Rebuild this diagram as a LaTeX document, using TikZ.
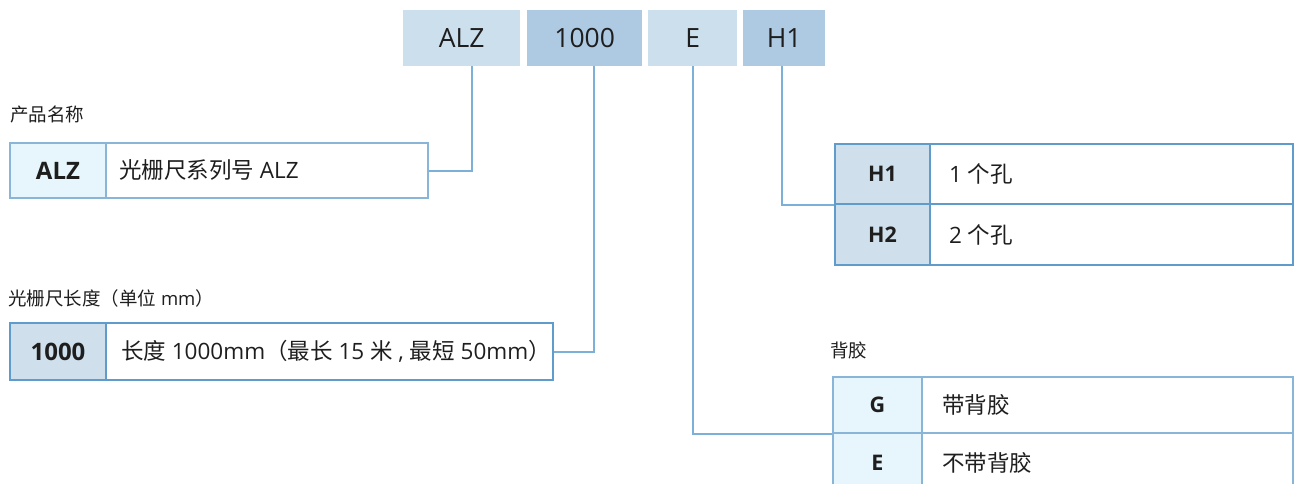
\documentclass[tikz,border=0pt]{standalone}
\usepackage{fontspec}
\setmainfont{Open Sans}
\newfontfamily\cjk{Noto Sans CJK SC}
\definecolor{topL}{HTML}{CCDFEC}
\definecolor{topD}{HTML}{AECAE2}
\definecolor{keyL}{HTML}{E7F6FD}
\definecolor{keyD}{HTML}{CFE0EC}
\definecolor{bordL}{HTML}{88B5D8}
\definecolor{bordD}{HTML}{5F9CCB}
\definecolor{connC}{HTML}{7DB0D6}
\definecolor{txt}{HTML}{1E1E1E}
\newcommand{\lbox}[2]{\makebox[#1][l]{#2}}
\begin{document}
\begin{tikzpicture}[x=1pt,y=-1pt,
  topbox/.style={minimum height=56pt, inner sep=0pt, anchor=north west, font=\fontsize{26.5}{30}\selectfont, text=txt},
  cell/.style={draw, line width=2pt, anchor=north west, inner sep=0pt, text=txt},
  keytext/.style={font=\fontsize{24}{28}\selectfont\bfseries},
  keysmall/.style={font=\fontsize{21.5}{25}\selectfont\bfseries},
  valtext/.style={font=\fontsize{22.5}{26}\selectfont},
  caption/.style={anchor=west, inner sep=0pt, font=\fontsize{18.5}{22}\selectfont, text=txt},
  conn/.style={draw=connC, line width=2pt}]
\useasboundingbox (0,0) rectangle (1295,484);

% top code boxes
\node[topbox, fill=topL, minimum width=117pt] (tALZ) at (403,10) {ALZ};
\node[topbox, fill=topD, minimum width=115pt] (t1000) at (527,10) {1000};
\node[topbox, fill=topL, minimum width=89pt] (tE) at (648,10) {E};
\node[topbox, fill=topD, minimum width=82pt] (tH1) at (743,10) {H1};

% ALZ table
\node[caption] (cALZ) at (10,115) {\cjk 产品名称};
\node[cell, draw=bordL, fill=keyL, keytext, minimum width=96pt, minimum height=55pt] (kALZ) at (9,142) {ALZ};
\node[cell, draw=bordL, valtext, minimum height=55pt, inner xsep=13pt] (vALZ) at (105,142) {\lbox{296pt}{{\cjk 光栅尺系列号} ALZ}};

% 1000 table
\node[caption] (c1000) at (8,298) {{\cjk 光栅尺长度（单位} mm{\cjk ）}};
\node[cell, draw=bordD, fill=keyD, keytext, minimum width=96pt, minimum height=57pt] (k1000) at (9,322) {1000};
\node[cell, draw=bordD, valtext, minimum height=57pt, inner xsep=15pt] (v1000) at (105,322) {\lbox{417pt}{{\cjk 长度} 1000mm{\cjk （最长} 15 {\cjk 米} , {\cjk 最短} 50mm{\cjk ）}}};

% H table
\node[cell, draw=bordD, fill=keyD, keysmall, minimum width=95pt, minimum height=60pt] (kH1) at (834,143) {H1};
\node[cell, draw=bordD, fill=keyD, keysmall, minimum width=95pt, minimum height=61pt] (kH2) at (834,203) {H2};
\node[cell, draw=bordD, valtext, minimum height=60pt, inner xsep=19pt] (vH1) at (929,143) {\lbox{325pt}{1 {\cjk 个孔}}};
\node[cell, draw=bordD, valtext, minimum height=61pt, inner xsep=19pt] (vH2) at (929,203) {\lbox{325pt}{2 {\cjk 个孔}}};

% G table
\node[caption] (cG) at (830,350) {\cjk 背胶};
\node[cell, draw=bordL, fill=keyL, keysmall, minimum width=89pt, minimum height=56pt] (kG) at (832,376) {G};
\node[cell, draw=bordL, fill=keyL, keysmall, minimum width=89pt, minimum height=60pt] (kE) at (832,432) {E};
\node[cell, draw=bordL, valtext, minimum height=56pt, inner xsep=20pt] (vG) at (921,376) {\lbox{331pt}{\cjk 带背胶}};
\node[cell, draw=bordL, valtext, minimum height=60pt, inner xsep=20pt] (vE) at (921,432) {\lbox{331pt}{\cjk 不带背胶}};

% connectors
\draw[conn] ([xshift=10.5pt]tALZ.south) |- (vALZ.east);
\draw[conn] ([xshift=9.5pt]t1000.south) |- (v1000.east);
\draw[conn] (tE.south) |- (kG.south west);
\draw[conn] ([xshift=-2pt]tH1.south) |- (kH1.south west);
\end{tikzpicture}
\end{document}
